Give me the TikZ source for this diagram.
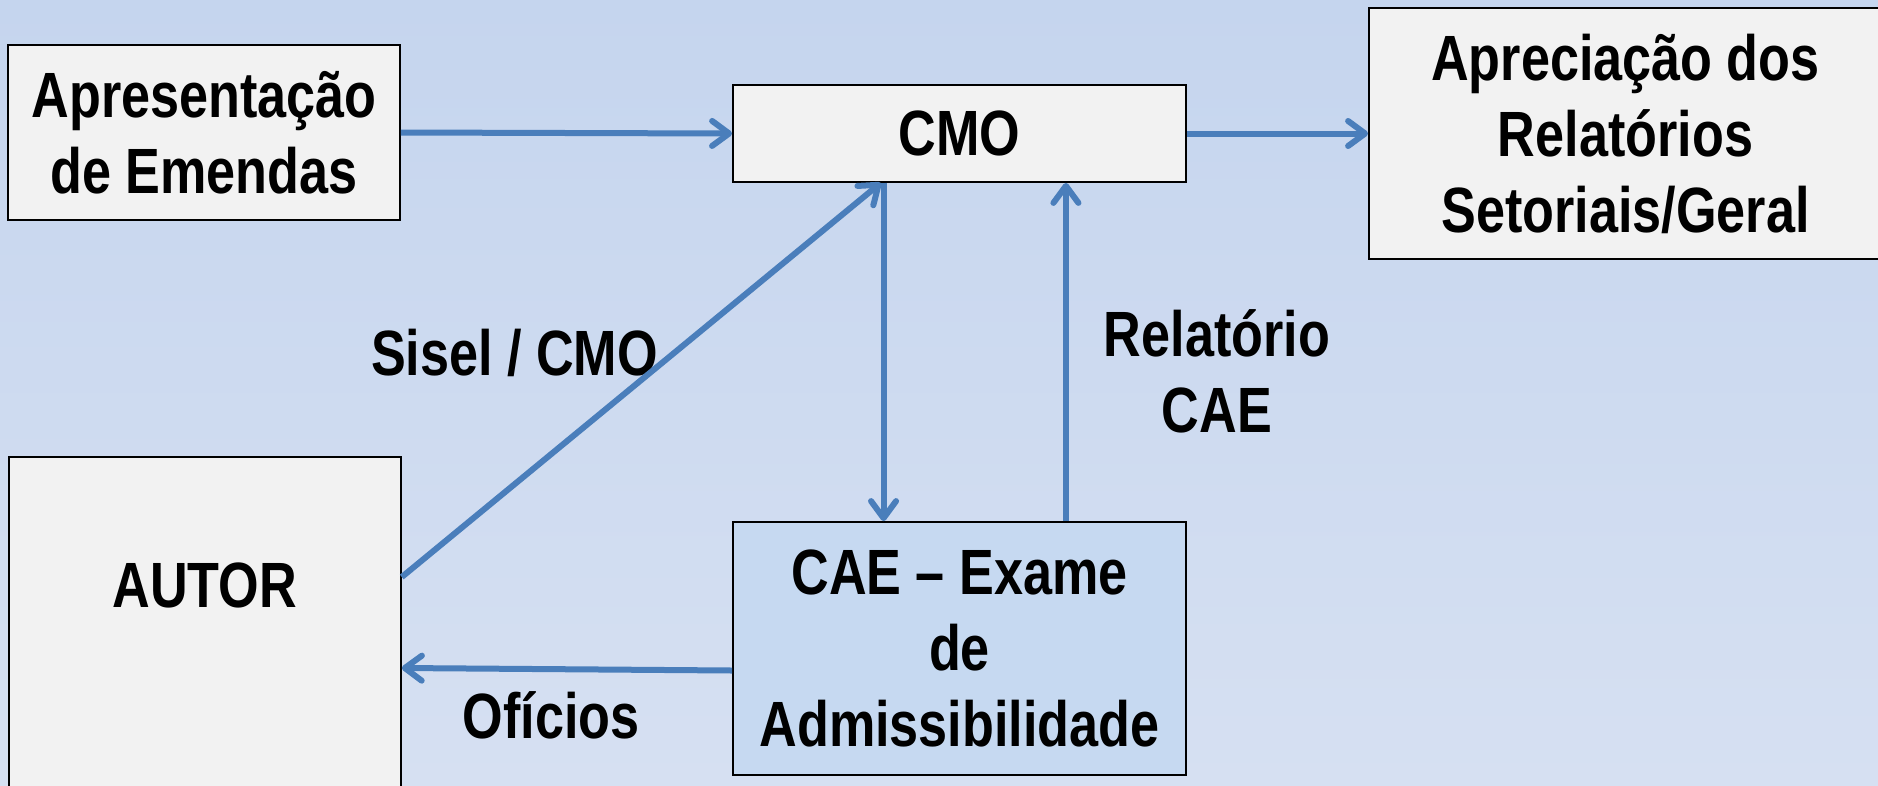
\documentclass[tikz,border=0pt]{standalone}
\usepackage{fontspec}
\setmainfont{Liberation Sans}[FakeStretch=0.815]
\usetikzlibrary{positioning,calc,arrows.meta,backgrounds}
\definecolor{setac}{RGB}{74,126,187}
\definecolor{caec}{RGB}{198,217,241}
\definecolor{fundoa}{RGB}{197,213,238}
\definecolor{fundob}{RGB}{214,224,242}

\begin{document}
\begin{tikzpicture}[x=1pt,y=-1pt]
\colorlet{boxcol}{gray!10!white}
\tikzstyle{caixa}=[draw=black,fill=boxcol,line width=1.8pt,inner sep=0pt,align=center,font=\bfseries\fontsize{64}{76}\selectfont];
\tikzstyle{rot}=[anchor=base,align=center,font=\bfseries\fontsize{64}{76}\selectfont];
\tikzstyle{seta}=[draw=setac,line width=6pt,-{Straight Barb[length=17pt,width=25pt,round]}];

\useasboundingbox (0,0) rectangle (1878,785);
\shade[top color=fundoa,bottom color=fundob] (0,0) rectangle (1878,785);

\begin{scope}
        \node[caixa,minimum width=392pt,minimum height=175pt] (apres) at (204,132.5) {Apresentação\\de Emendas};
        \node[caixa,minimum width=453pt,minimum height=97pt] (cmo) at (959.5,133.5) {CMO};
        \node[caixa,minimum width=513pt,minimum height=251pt] (aprec) at (1625.5,133.5) {Apreciação dos\\Relatórios\\Setoriais/Geral};
        \node[caixa,fill=caec,minimum width=453pt,minimum height=253pt] (cae) at (959.5,648.5) {CAE – Exame\\de\\Admissibilidade};
        % caixa do autor passa da borda de baixo
        \node[caixa,anchor=north west,minimum width=392pt,text height=151pt,text depth=193pt] (autor) at (8,456) {AUTOR};

        \node[rot] (sisel) at (514.5,375) {Sisel / CMO};
        \node[rot] (oficios) at (551,738) {Ofícios};
        \node[rot,anchor=center] (relcae) at (1217,371) {Relatório\\CAE};

        \draw[seta] (apres.east) -- (cmo.west);
        \draw[seta] (cmo.east) -- (aprec.west);
        \draw[seta] ([yshift=-121pt]autor.north east) -- ($(cmo.south west)!0.327!(cmo.south east)$);
        \draw[seta] ($(cmo.south west)!0.333!(cmo.south east)$) -- ($(cae.north west)!0.333!(cae.north east)$);
        \draw[seta] ($(cae.north west)!0.734!(cae.north east)$) -- ($(cmo.south west)!0.734!(cmo.south east)$);
        \draw[seta] ([yshift=-22pt]cae.west) -- ([yshift=-212pt]autor.north east);
\end{scope}

\end{tikzpicture}
\end{document}
